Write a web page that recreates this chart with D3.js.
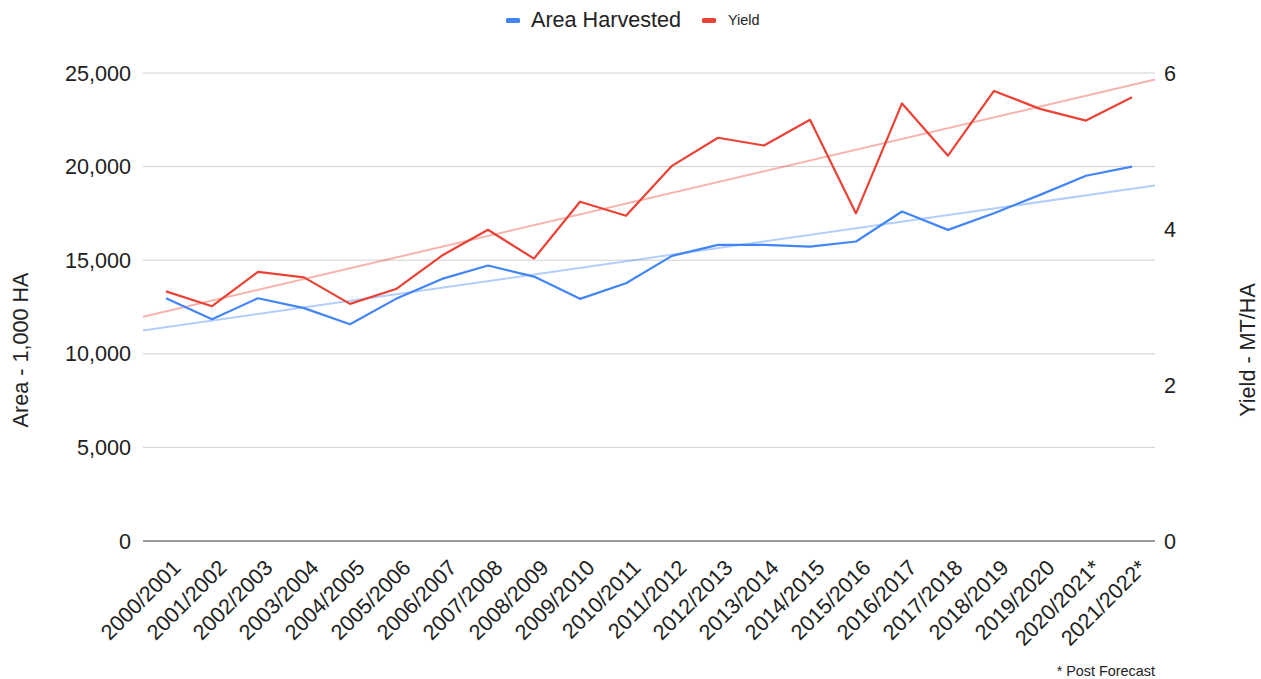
<!DOCTYPE html>
<html lang="en">
<head>
    <meta charset="UTF-8">
    <title>Area Harvested and Yield</title>
    <script src="https://cdn.jsdelivr.net/npm/d3@7"></script>
    <style>
        body { margin: 0; background: #fff; }
        svg text { font-family: "Liberation Sans", Arial, sans-serif; fill: #222; }
        .grid line { stroke: #d0d0d0; stroke-width: 1px; }
    </style>
</head>
<body>
    <script>
        // marketing years, * = post forecast
        var years = ["2000/2001","2001/2002","2002/2003","2003/2004","2004/2005","2005/2006",
                     "2006/2007","2007/2008","2008/2009","2009/2010","2010/2011","2011/2012",
                     "2012/2013","2013/2014","2014/2015","2015/2016","2016/2017","2017/2018",
                     "2018/2019","2019/2020","2020/2021*","2021/2022*"];
        // area harvested, 1,000 HA
        var area = [12970, 11850, 12970, 12440, 11580, 12935, 14000, 14715, 14125, 12935, 13770,
                    15230, 15820, 15820, 15730, 16000, 17600, 16620, 17510, 18490, 19510, 20000];
        // yield, MT/HA
        var yieldVals = [3.20, 3.01, 3.45, 3.38, 3.04, 3.23, 3.66, 3.99, 3.62, 4.35, 4.17,
                         4.81, 5.17, 5.07, 5.40, 4.20, 5.61, 4.94, 5.77, 5.54, 5.39, 5.69];
        var leftTicks = [0, 5000, 10000, 15000, 20000, 25000];
        var rightTicks = [0, 2, 4, 6];

        var W = 1261, H = 679;
        var pL = 143, pR = 1155, pT = 73, pB = 541;   // plot box
        var fs = 21.6;                                 // main font size

        var svg = d3.select("body").append("svg")
            .attr("width", W).attr("height", H);

        var x = d3.scalePoint().domain(years).range([pL, pR]).padding(0.5);
        var yL = d3.scaleLinear().domain([0, 25000]).range([pB, pT]);
        var yR = d3.scaleLinear().domain([0, 6]).range([pB, pT]);

        // gridlines
        svg.append("g").attr("class", "grid")
            .selectAll("line").data(leftTicks.slice(1)).enter().append("line")
            .attr("x1", pL).attr("x2", pR)
            .attr("y1", d => yL(d)).attr("y2", d => yL(d));
        svg.append("line")
            .attr("x1", pL).attr("x2", pR)
            .attr("y1", yL(0)).attr("y2", yL(0))
            .attr("stroke", "#7a7a7a").attr("stroke-width", 1.5);

        // left axis labels
        var fmt = d3.format(",");
        svg.append("g").selectAll("text").data(leftTicks).enter().append("text")
            .attr("x", pL - 12).attr("y", d => yL(d))
            .attr("dy", "0.35em").attr("text-anchor", "end")
            .attr("font-size", fs).text(d => fmt(d));

        // right axis labels
        svg.append("g").selectAll("text").data(rightTicks).enter().append("text")
            .attr("x", pR + 9).attr("y", d => yR(d))
            .attr("dy", "0.35em").attr("text-anchor", "start")
            .attr("font-size", fs).text(d => d);

        // axis titles
        svg.append("text")
            .attr("transform", "translate(28,350) rotate(-90)")
            .attr("text-anchor", "middle").attr("font-size", fs)
            .text("Area - 1,000 HA");
        svg.append("text")
            .attr("transform", "translate(1255,350) rotate(-90)")
            .attr("text-anchor", "middle").attr("font-size", fs)
            .text("Yield - MT/HA");

        // x labels
        svg.append("g").selectAll("text").data(years).enter().append("text")
            .attr("transform", d => "translate(" + (x(d) + 16) + "," + (pB + 28) + ") rotate(-45)")
            .attr("text-anchor", "end").attr("font-size", fs)
            .text(d => d);

        // least squares trendline over the index
        function trend(vals) {
            var n = vals.length, idx = d3.range(n);
            var mx = d3.mean(idx), my = d3.mean(vals);
            var sxy = d3.sum(idx, i => (i - mx) * (vals[i] - my));
            var sxx = d3.sum(idx, i => (i - mx) * (i - mx));
            var b = sxy / sxx, a = my - b * mx;
            return [-0.5, n - 0.5].map(i => [i, a + b * i]);
        }
        var step = x.step();
        var xi = i => x(years[0]) + i * step;

        svg.append("path").datum(trend(area))
            .attr("d", d3.line().x(d => xi(d[0])).y(d => yL(d[1])))
            .attr("fill", "none").attr("stroke", "#4285f4").attr("stroke-opacity", 0.4).attr("stroke-width", 2);
        svg.append("path").datum(trend(yieldVals))
            .attr("d", d3.line().x(d => xi(d[0])).y(d => yR(d[1])))
            .attr("fill", "none").attr("stroke", "#ea4335").attr("stroke-opacity", 0.4).attr("stroke-width", 2);

        // series
        svg.append("path").datum(area)
            .attr("d", d3.line().x((d, i) => x(years[i])).y(d => yL(d)))
            .attr("fill", "none").attr("stroke", "#4285f4").attr("stroke-width", 2.2)
            .attr("stroke-linejoin", "round");
        svg.append("path").datum(yieldVals)
            .attr("d", d3.line().x((d, i) => x(years[i])).y(d => yR(d)))
            .attr("fill", "none").attr("stroke", "#ea4335").attr("stroke-width", 2.2)
            .attr("stroke-linejoin", "round");

        // legend
        var lg = svg.append("g");
        lg.append("rect").attr("x", 506).attr("y", 18).attr("width", 14).attr("height", 5)
            .attr("rx", 1.5).attr("fill", "#4285f4");
        lg.append("text").attr("x", 531).attr("y", 27)
            .attr("font-size", fs).text("Area Harvested");
        lg.append("rect").attr("x", 702).attr("y", 18).attr("width", 14).attr("height", 5)
            .attr("rx", 1.5).attr("fill", "#ea4335");
        lg.append("text").attr("x", 728).attr("y", 25)
            .attr("font-size", 14.4).text("Yield");

        // footnote
        svg.append("text").attr("x", pR).attr("y", 676)
            .attr("text-anchor", "end").attr("font-size", 14.4)
            .text("* Post Forecast");
    </script>
</body>
</html>
